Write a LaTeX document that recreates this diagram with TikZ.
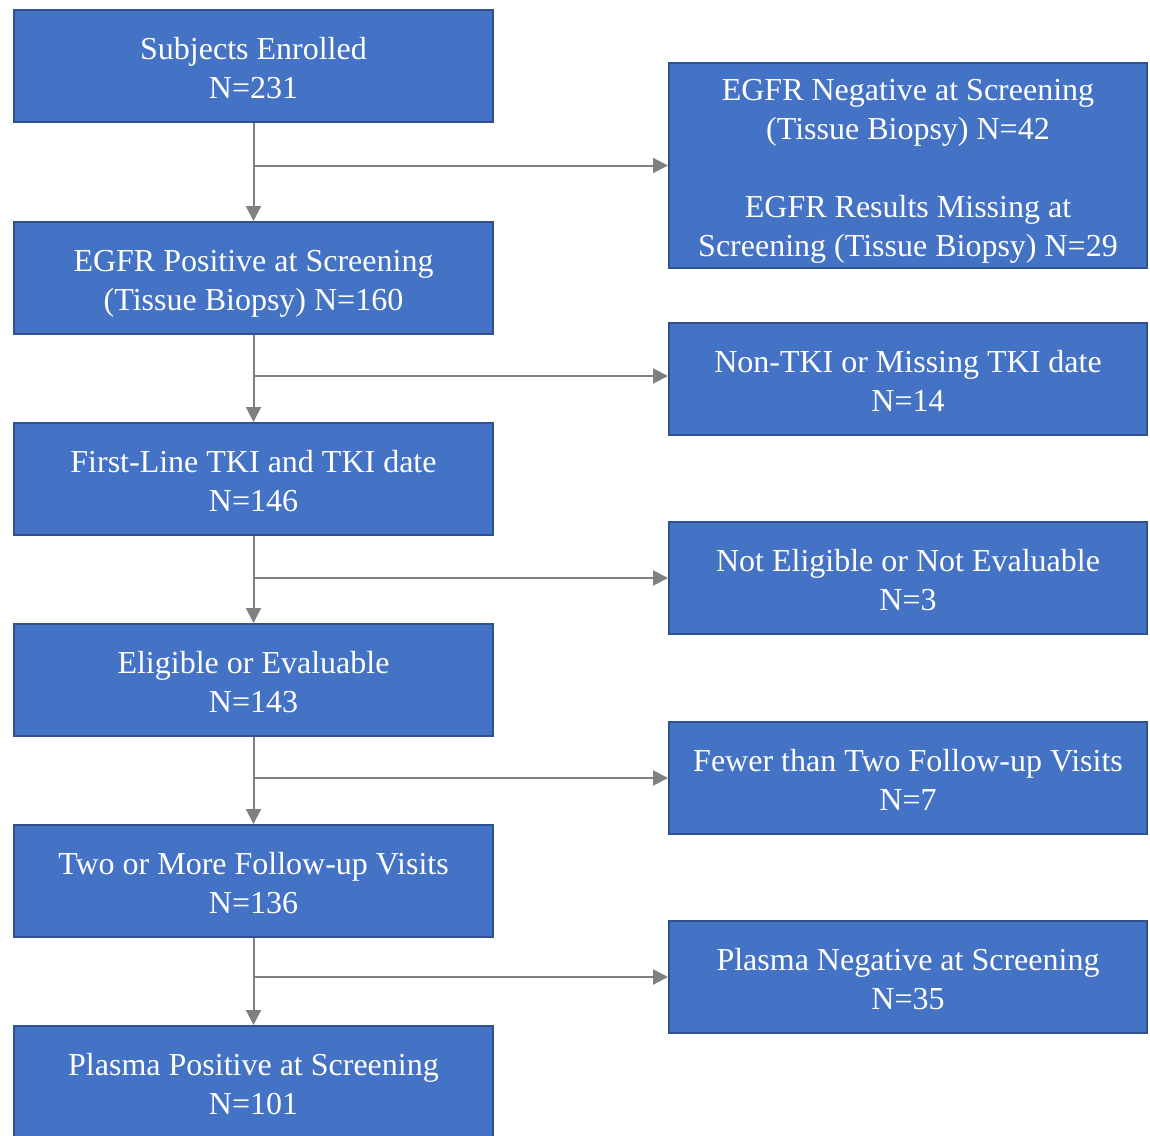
\documentclass[tikz,border=0pt]{standalone}
\usepackage{fontspec}
\setmainfont{Liberation Serif}
\usetikzlibrary{arrows.meta}

\definecolor{boxblue}{HTML}{4472C4}
\definecolor{boxedge}{HTML}{2F528F}
\definecolor{linegray}{HTML}{808080}

% fixed line height/depth so every box sets its text alike
\newcommand{\bs}{\rule[-3.7pt]{0pt}{20.5pt}}

\tikzset{
	box/.style={draw=boxedge, fill=boxblue, line width=1pt, text=white, align=center,
		inner sep=0pt, font=\fontsize{16}{19.5}\selectfont,
		execute at end node=\bs},
	lbox/.style={box, minimum width=239.5pt, minimum height=56pt},
	rbox/.style={box, minimum width=239pt, minimum height=56pt},
	flow/.style={draw=linegray, line width=1pt, -{Triangle[length=7.5pt,width=7.5pt]}}
}

\begin{document}
\begin{tikzpicture}[x=0.5pt,y=-0.5pt]

\clip (0,0) rectangle (1150,1135);

% left column
\node[lbox] (l0) at (253.5,66) {\bs Subjects Enrolled\\N=231};
\node[lbox] (l1) at (253.5,278) {\bs EGFR Positive at Screening\\(Tissue Biopsy) N=160};
\node[lbox] (l2) at (253.5,479) {\bs First-Line TKI and TKI date\\N=146};
\node[lbox] (l3) at (253.5,680) {\bs Eligible or Evaluable\\N=143};
\node[lbox] (l4) at (253.5,881) {\bs Two or More Follow-up Visits\\N=136};
\node[lbox] (l5) at (253.5,1082) {\bs Plasma Positive at Screening\\N=101};

% right column
\node[rbox, minimum height=102.5pt] (r1) at (908,165.5)
	{\bs EGFR Negative at Screening\\(Tissue Biopsy) N=42\\[19.5pt]EGFR Results Missing at\\Screening (Tissue Biopsy) N=29};
\node[rbox] (r2) at (908,379) {\bs Non-TKI or Missing TKI date\\N=14};
\node[rbox] (r3) at (908,578) {\bs Not Eligible or Not Evaluable\\N=3};
\node[rbox] (r4) at (908,778) {\bs Fewer than Two Follow-up Visits\\N=7};
\node[rbox] (r5) at (908,977) {\bs Plasma Negative at Screening\\N=35};

% branch points
\coordinate (b1) at (l0.south |- r1.west);
\coordinate (b2) at ([yshift=1.5pt]l1.south |- r2.west);
\coordinate (b3) at (l2.south |- r3.west);
\coordinate (b4) at (l3.south |- r4.west);
\coordinate (b5) at (l4.south |- r5.west);

\foreach \i/\j in {0/1,1/2,2/3,3/4,4/5}{
	\draw[flow] (l\i.south) -- (l\j.north);
	\draw[flow] (b\j) -- (b\j -| r\j.west);
}

\end{tikzpicture}
\end{document}
